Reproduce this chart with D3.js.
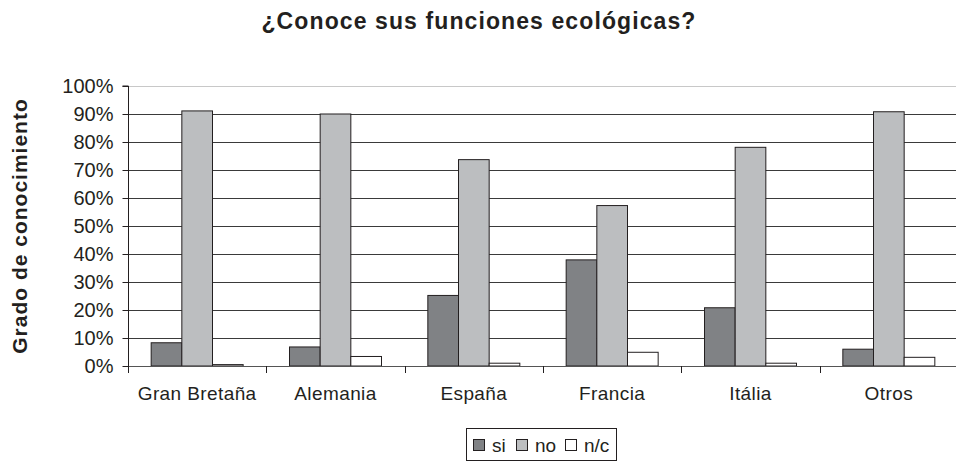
<!DOCTYPE html>
<html>
<head>
<meta charset="utf-8">
<script src="https://cdn.jsdelivr.net/npm/d3@7"></script>
<style>
  body { margin: 0; background: #fff; }
  svg { display: block; font-family: "Liberation Sans", Arial, sans-serif; }
</style>
</head>
<body>
<svg id="chart" width="956" height="462"></svg>
<script>
// Data
const categories = ['Gran Bretaña', 'Alemania', 'España', 'Francia', 'Itália', 'Otros'];
const seriesNames = ['si', 'no', 'n/c'];
const si = [8.3, 6.8, 25.2, 37.9, 20.8, 6.0];
const no = [91.1, 90.0, 73.7, 57.3, 78.1, 90.8];
const nc = [0.5, 3.4, 1.0, 4.9, 1.0, 3.1];
const yTicks = [0, 10, 20, 30, 40, 50, 60, 70, 80, 90, 100];
const colors = ['#808285', '#bcbec0', '#ffffff'];

const svg = d3.select('#chart');
const plot = { left: 128, right: 958, top: 86, bottom: 366 };

const x0 = d3.scaleBand()
  .domain(categories)
  .range([plot.left, plot.right])
  .paddingInner(0.335)
  .paddingOuter(0.1675);

const x1 = d3.scaleBand()
  .domain(seriesNames)
  .range([0, x0.bandwidth()]);

const y = d3.scaleLinear()
  .domain([0, 100])
  .range([plot.bottom, plot.top]);

// Gridlines
svg.append('g')
  .selectAll('line')
  .data(yTicks.filter(d => d > 0))
  .enter()
  .append('line')
  .attr('x1', plot.left)
  .attr('x2', plot.right)
  .attr('y1', d => Math.round(y(d)) + 0.5)
  .attr('y2', d => Math.round(y(d)) + 0.5)
  .attr('stroke', d => d === 100 ? '#c8c8c8' : '#3a3a3a')
  .attr('stroke-width', 1);

// Bars
const rows = categories.map((c, i) => ({ cat: c, vals: [si[i], no[i], nc[i]] }));
const groups = svg.append('g')
  .selectAll('g')
  .data(rows)
  .enter()
  .append('g')
  .attr('transform', d => `translate(${x0(d.cat)},0)`);

groups.selectAll('rect')
  .data(d => d.vals.map((v, j) => ({ key: seriesNames[j], v, j })))
  .enter()
  .append('rect')
  .attr('x', d => x1(d.key))
  .attr('y', d => y(d.v))
  .attr('width', x1.bandwidth())
  .attr('height', d => y(0) - y(d.v))
  .attr('fill', d => colors[d.j])
  .attr('stroke', '#231f20')
  .attr('stroke-width', 1);

// X axis
const xAxis = svg.append('g')
  .attr('transform', `translate(0,${plot.bottom})`);
xAxis.append('line')
  .attr('x1', plot.left).attr('x2', plot.right)
  .attr('y1', 0.5).attr('y2', 0.5)
  .attr('stroke', '#555');
const bounds = categories.map(c => x0(c) - x0.step() * x0.paddingInner() / 2);
xAxis.selectAll('.tick')
  .data(bounds.slice(1))
  .enter()
  .append('line')
  .attr('x1', d => Math.round(d) + 0.5)
  .attr('x2', d => Math.round(d) + 0.5)
  .attr('y1', 0)
  .attr('y2', 7)
  .attr('stroke', '#231f20');
xAxis.selectAll('text')
  .data(categories)
  .enter()
  .append('text')
  .attr('x', d => x0(d) + x0.bandwidth() / 2)
  .attr('y', 34)
  .attr('text-anchor', 'middle')
  .attr('font-size', 19)
  .attr('letter-spacing', 0.4)
  .attr('fill', '#231f20')
  .text(d => d);

// Y axis
svg.append('g')
  .attr('transform', `translate(${plot.left + 0.5},0)`)
  .call(d3.axisLeft(y).tickValues(yTicks).tickSize(6).tickPadding(9).tickFormat(d => d + '%'))
  .call(g => g.select('.domain').attr('stroke', '#231f20').attr('d', `M-6,${plot.top}H0V${plot.bottom + 7}`))
  .call(g => g.selectAll('.tick line').attr('stroke', '#231f20'))
  .call(g => g.selectAll('.tick text')
    .attr('font-size', 20)
    .attr('font-family', '"Liberation Sans", Arial, sans-serif')
    .attr('fill', '#231f20'));

// Title
svg.append('text')
  .attr('x', 479)
  .attr('y', 29)
  .attr('text-anchor', 'middle')
  .attr('font-size', 23)
  .attr('font-weight', 'bold')
  .attr('letter-spacing', 1.1)
  .attr('fill', '#231f20')
  .text('¿Conoce sus funciones ecológicas?');

// Y label
svg.append('text')
  .attr('transform', `translate(27,${(plot.top + plot.bottom) / 2}) rotate(-90)`)
  .attr('text-anchor', 'middle')
  .attr('font-size', 21)
  .attr('font-weight', 'bold')
  .attr('letter-spacing', 1)
  .attr('fill', '#231f20')
  .text('Grado de conocimiento');

// Legend
const legend = svg.append('g');
legend.append('rect')
  .attr('x', 466.5).attr('y', 428.5)
  .attr('width', 150).attr('height', 32)
  .attr('fill', '#fff')
  .attr('stroke', '#231f20');
const legendX = [473, 516, 565];
seriesNames.forEach((s, i) => {
  legend.append('rect')
    .attr('x', legendX[i] + 0.5).attr('y', 439.5)
    .attr('width', 11).attr('height', 11)
    .attr('fill', colors[i])
    .attr('stroke', '#231f20');
  legend.append('text')
    .attr('x', legendX[i] + 19)
    .attr('y', 452)
    .attr('font-size', 19)
    .attr('fill', '#231f20')
    .text(s);
});
</script>
</body>
</html>
